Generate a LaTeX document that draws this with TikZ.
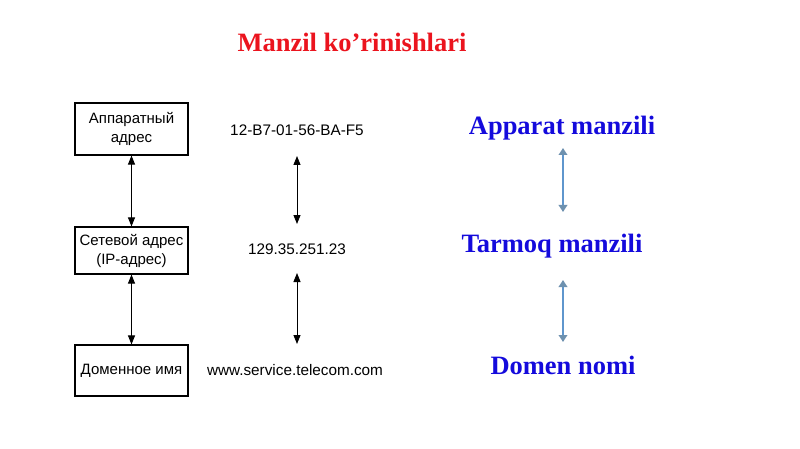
\documentclass[tikz,border=0pt]{standalone}
\usepackage{fontspec}
\setmainfont{Liberation Serif}
\newfontfamily\rusfont{Liberation Sans}
\usetikzlibrary{arrows.meta}
\definecolor{titlered}{RGB}{235,20,30}
\definecolor{lblue}{RGB}{20,10,220}
\definecolor{arrblue}{RGB}{95,150,205}
\definecolor{tipblue}{RGB}{110,145,175}
\tikzset{
  addrbox/.style={draw, line width=1.1pt, minimum width=113pt, align=center, font=\rusfont\fontsize{15}{19}\selectfont, inner sep=1pt},
  addrtext/.style={font=\rusfont\fontsize{15.3}{18}\selectfont, inner sep=1pt},
  bluelabel/.style={font=\bfseries\fontsize{26.5}{30}\selectfont, text=lblue, inner sep=1pt},
  blkarrow/.style={line width=0.9pt, {Triangle[length=9pt,width=7pt]}-{Triangle[length=9pt,width=7pt]}},
  bluearrow/.style={draw=arrblue, line width=2.4pt, {Triangle[length=7pt,width=8.5pt,color=tipblue]}-{Triangle[length=7pt,width=8.5pt,color=tipblue]}},
}
\begin{document}
\begin{tikzpicture}[x=1pt,y=-1pt]
\useasboundingbox (0,0) rectangle (800,449);
\node[font=\bfseries\fontsize{26.5}{30}\selectfont, text=titlered] (title) at (352,42) {Manzil ko’rinishlari};

\node[addrbox, minimum height=52pt] (b1) at (131.5,129) {Аппаратный\\адрес};
\node[addrbox, minimum height=47pt] (b2) at (131.5,250.5) {Сетевой адрес\\(IP-адрес)};
\node[addrbox, minimum height=51pt] (b3) at (131.5,370.5) {Доменное имя};
\draw[blkarrow] (b1.south) -- (b2.north);
\draw[blkarrow] (b2.south) -- (b3.north);

\node[addrtext] (m1) at (297,130) {12-B7-01-56-BA-F5};
\node[addrtext] (m2) at (297,249) {129.35.251.23};
\node[addrtext] (m3) at (295,370) {www.service.telecom.com};
\coordinate (m1a) at (297,156);
\coordinate (m1b) at (297,224);
\coordinate (m2a) at (297,273);
\coordinate (m2b) at (297,344);
\draw[blkarrow] (m1a) -- (m1b);
\draw[blkarrow] (m2a) -- (m2b);

\node[bluelabel] (r1) at (562,128) {Apparat manzili};
\node[bluelabel] (r2) at (552,246) {Tarmoq manzili};
\node[bluelabel] (r3) at (563,365) {Domen nomi};
\coordinate (r1a) at (563,148);
\coordinate (r1b) at (563,212);
\coordinate (r2a) at (563,280);
\coordinate (r2b) at (563,342);
\draw[bluearrow] (r1a) -- (r1b);
\draw[bluearrow] (r2a) -- (r2b);
\end{tikzpicture}
\end{document}
